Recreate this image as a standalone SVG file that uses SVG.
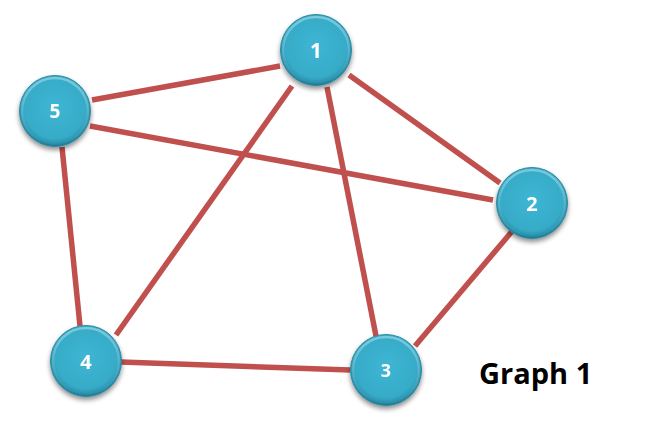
<svg xmlns="http://www.w3.org/2000/svg" width="666" height="434" viewBox="0 0 666 434">
  <defs>
    <radialGradient id="ball" cx="50%" cy="45%" r="55%">
      <stop offset="0" stop-color="#3db6d4"/>
      <stop offset="0.8" stop-color="#36abc8"/>
      <stop offset="0.93" stop-color="#2a90ab"/>
      <stop offset="1" stop-color="#1f6f85"/>
    </radialGradient>
    <linearGradient id="gloss" x1="0" y1="0" x2="0" y2="1">
      <stop offset="0" stop-color="#ffffff" stop-opacity="0.35"/>
      <stop offset="1" stop-color="#ffffff" stop-opacity="0"/>
    </linearGradient>
    <filter id="shadow" x="-30%" y="-30%" width="160%" height="170%">
      <feGaussianBlur in="SourceAlpha" stdDeviation="2.5"/>
      <feOffset dx="0" dy="3" result="b"/>
      <feComponentTransfer><feFuncA type="linear" slope="0.45"/></feComponentTransfer>
      <feMerge><feMergeNode/><feMergeNode in="SourceGraphic"/></feMerge>
    </filter>
  </defs>
  <style>
    .edge { stroke: #c0504d; stroke-width: 5.5; stroke-linecap: butt; fill: none; }
    .node circle.b { fill: url(#ball); stroke: #2a8aa3; stroke-width: 1; }
    .node circle.g { fill: none; stroke: url(#gloss); stroke-width: 2.5; }
    .lbl { font-family: "Open Sans", "Liberation Sans", sans-serif; font-weight: bold; font-size: 20px; fill: #ffffff; text-anchor: middle; dominant-baseline: central; }
    .title { font-family: "Open Sans", "Liberation Sans", sans-serif; font-weight: bold; font-size: 29px; fill: #000000; }
  </style>
  <rect width="666" height="434" fill="#ffffff"/>
  <g id="connectors">
    <line class="edge" x1="92" y1="100" x2="280" y2="66"/>
    <line class="edge" x1="90" y1="126" x2="493" y2="200"/>
    <line class="edge" x1="349" y1="75" x2="500" y2="183"/>
    <line class="edge" x1="327" y1="87" x2="376" y2="336"/>
    <line class="edge" x1="292" y1="86" x2="116" y2="335"/>
    <line class="edge" x1="62" y1="147" x2="80" y2="326"/>
    <line class="edge" x1="121" y1="362" x2="350" y2="370"/>
    <line class="edge" x1="514" y1="229" x2="415" y2="346"/>
  </g>
  <g id="node1" class="node" filter="url(#shadow)">
    <circle class="b" cx="316" cy="50" r="35.5"/>
    <circle class="g" cx="316" cy="50" r="33"/>
    <text class="lbl" x="316" y="50" style="font-size:21px">1</text>
  </g>
  <g id="node2" class="node" filter="url(#shadow)">
    <circle class="b" cx="532" cy="203" r="35.5"/>
    <circle class="g" cx="532" cy="203" r="33"/>
    <text class="lbl" x="532" y="203">2</text>
  </g>
  <g id="node3" class="node" filter="url(#shadow)">
    <circle class="b" cx="386" cy="370" r="35.5"/>
    <circle class="g" cx="386" cy="370" r="33"/>
    <text class="lbl" x="386" y="370" style="font-size:18px">3</text>
  </g>
  <g id="node4" class="node" filter="url(#shadow)">
    <circle class="b" cx="86" cy="361" r="35.5"/>
    <circle class="g" cx="86" cy="361" r="33"/>
    <text class="lbl" x="86" y="361">4</text>
  </g>
  <g id="node5" class="node" filter="url(#shadow)">
    <circle class="b" cx="55" cy="111" r="35.5"/>
    <circle class="g" cx="55" cy="111" r="33"/>
    <text class="lbl" x="55" y="111" style="font-size:19px">5</text>
  </g>
  <text id="title" class="title" x="479" y="384">Graph 1</text>
</svg>
